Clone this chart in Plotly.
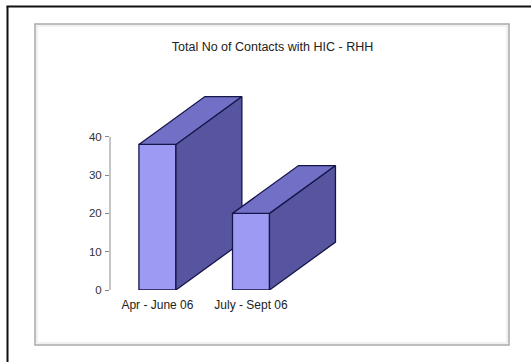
import plotly.graph_objects as go

# Chart data
periods = ["Apr - June 06", "July - Sept 06"]
contacts = [38, 20]
y_ticks = [0, 10, 20, 30, 40]

# 3D bar geometry (data units)
BAR_W = 0.395       # front face width
DEPTH_X = 0.705     # receding depth, horizontal
DEPTH_Y = 12.5      # receding depth, vertical

FRONT = "#9c9af2"
TOP = "#7270c6"
SIDE = "#57559f"
EDGE = "#16164a"

# Figure frame (pixels)
W, H = 531, 362
L, R, T, B = 110, 61, 80, 72
PW, PH = W - L - R, H - T - B


def px_x(p):
    return (p - L) / PW


def px_y(p):
    return (H - B - p) / PH


fig = go.Figure()


def face(xs, ys, color):
    fig.add_trace(go.Scatter(
        x=xs + [xs[0]], y=ys + [ys[0]], mode="lines", fill="toself",
        fillcolor=color, line=dict(color=EDGE, width=1.3),
        hoverinfo="skip", showlegend=False))


for i, v in enumerate(contacts):
    x0, x1 = i - BAR_W / 2, i + BAR_W / 2
    # front
    face([x0, x1, x1, x0], [0, 0, v, v], FRONT)
    # right side
    face([x1, x1 + DEPTH_X, x1 + DEPTH_X, x1],
         [0, DEPTH_Y, v + DEPTH_Y, v], SIDE)
    # top
    face([x0, x1, x1 + DEPTH_X, x0 + DEPTH_X],
         [v, v, v + DEPTH_Y, v + DEPTH_Y], TOP)

# x range so that 1 category step is ~93.6 px and the axis sits at x=110
step_px = 93.6
x_lo = -(157.4 - L) / step_px
x_hi = x_lo + PW / step_px
y_hi = PH / 3.83

shapes = [
    # y axis line, only up to the last tick
    dict(type="line", xref="paper", yref="y", x0=0, x1=0, y0=0, y1=40,
         line=dict(color="#8a8a8a", width=1)),
    # chart panel border
    dict(type="rect", xref="paper", yref="paper",
         x0=px_x(35), x1=px_x(509), y0=px_y(345), y1=px_y(24),
         line=dict(color="#a8a8a8", width=1.5), layer="below"),
    dict(type="rect", xref="paper", yref="paper",
         x0=px_x(37), x1=px_x(507), y0=px_y(343), y1=px_y(26),
         line=dict(color="#e2e2e2", width=1), layer="below"),
    # outer page frame
    dict(type="line", xref="paper", yref="paper",
         x0=px_x(6.5), x1=px_x(531), y0=px_y(6.5), y1=px_y(6.5),
         line=dict(color="#111111", width=2)),
    dict(type="line", xref="paper", yref="paper",
         x0=px_x(7.5), x1=px_x(7.5), y0=px_y(6.5), y1=px_y(362),
         line=dict(color="#111111", width=2)),
]

FONT = "Liberation Sans, Arial, sans-serif"

fig.update_layout(
    width=W, height=H,
    margin=dict(l=L, r=R, t=T, b=B, pad=0),
    paper_bgcolor="white", plot_bgcolor="rgba(0,0,0,0)",
    font=dict(family=FONT, color="#222222"),
    title=dict(text="Total No of Contacts with HIC - RHH",
               font=dict(family=FONT, size=12.5, color="#222222"),
               xref="container", yref="container",
               x=272.5 / W, y=1 - 46.7 / H,
               xanchor="center", yanchor="middle"),
    xaxis=dict(range=[x_lo, x_hi], tickmode="array",
               tickvals=list(range(len(periods))), ticktext=periods,
               showgrid=False, zeroline=False, showline=False, ticks="",
               tickfont=dict(size=12, color="#222222"),
               ticklabelstandoff=6, fixedrange=True),
    yaxis=dict(range=[0, y_hi], tickmode="array", tickvals=y_ticks,
               showgrid=False, zeroline=False, showline=False,
               ticks="outside", ticklen=4, tickcolor="#8a8a8a",
               tickfont=dict(size=11.5, color="#333333"),
               ticklabelstandoff=1, fixedrange=True),
    shapes=shapes,
    showlegend=False,
)

fig.write_html("out.html")
